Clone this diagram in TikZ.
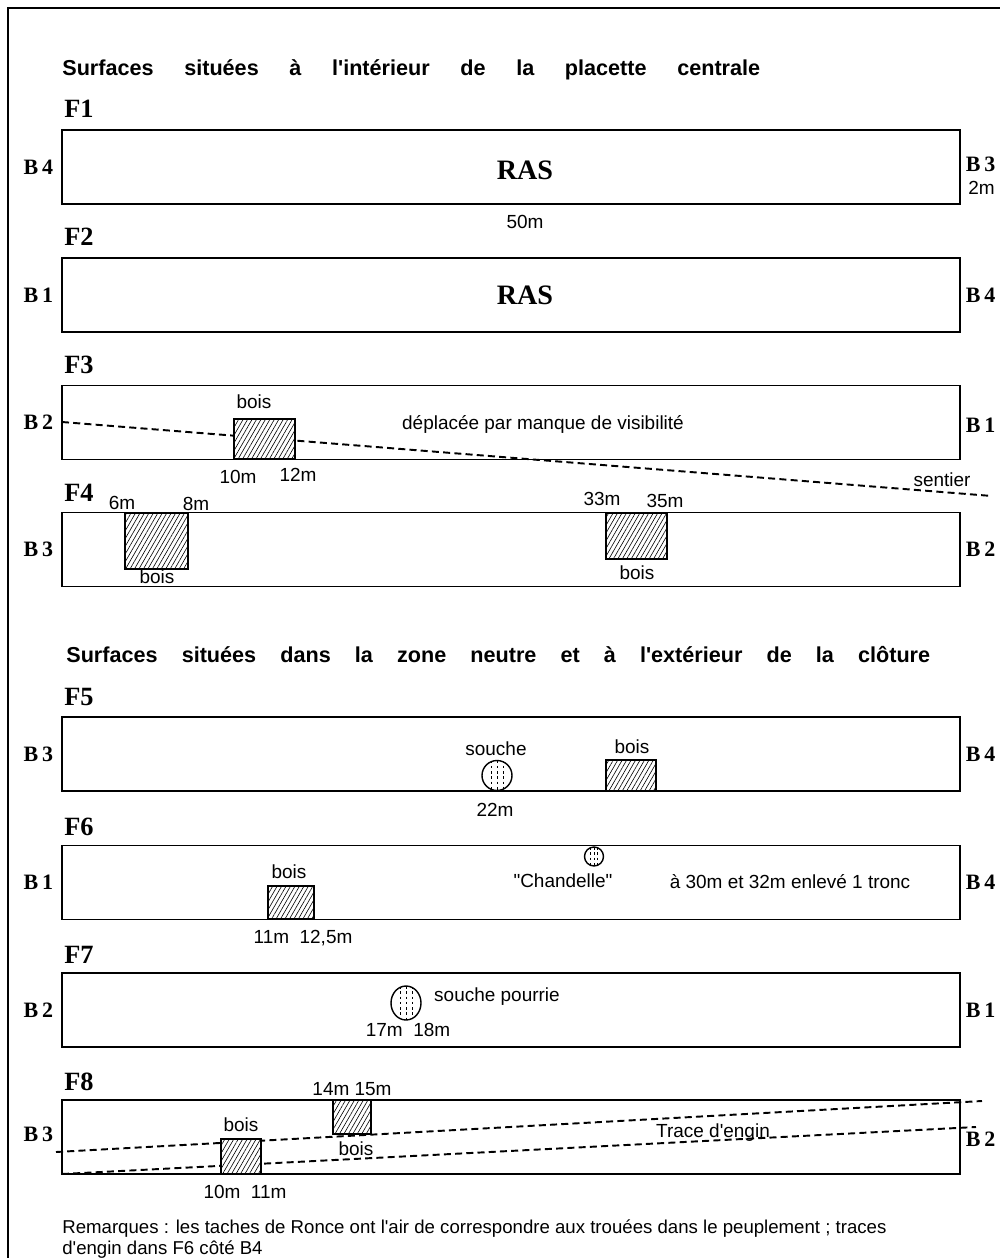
\documentclass[tikz,border=0pt]{standalone}
\usepackage{fontspec}
\setmainfont{Liberation Sans}[Ligatures=TeXOff]
\newfontfamily\tnr{Liberation Serif}
\usetikzlibrary{positioning,patterns.meta}

% stump: centre x, centre y, x radius, y radius
\newcommand\stump[4]{%
  \begin{scope}[shift={(#1,#2)}]
    \draw[thick,fill=white] (0,0) ellipse [x radius=#3,y radius=#4];
    \clip (0,0) ellipse [x radius=#3,y radius=#4];
    \foreach \dx in {-0.4,0,0.4}
      \draw[thin,dash pattern=on 1.5pt off 1.5pt] (\dx*#3,-#4) -- (\dx*#3,#4);
  \end{scope}}

\begin{document}
\begin{tikzpicture}[x=0.02cm,y=-0.02cm,
    strip/.style={draw,thick,rectangle,minimum width=17.96cm,minimum height=1.48cm,inner sep=0},
    title/.style={font=\bfseries\fontsize{12.3}{14}\selectfont,anchor=base west,inner sep=0},
    flab/.style={font=\tnr\bfseries\fontsize{15}{15}\selectfont,anchor=base west,inner sep=0},
    blab/.style={font=\tnr\bfseries\fontsize{12.5}{13}\selectfont,inner sep=0},
    lab/.style={font=\fontsize{10.8}{12}\selectfont,inner sep=0},
    ras/.style={font=\tnr\bfseries\fontsize{16}{16}\selectfont},
    hatch/.style={draw,thick,fill=white,postaction={pattern={Lines[angle=60,distance=2.2pt,line width=.35pt]}}},
    track/.style={line width=1.1pt,dash pattern=on 4pt off 2.4pt}]
    \useasboundingbox (0,0) rectangle (1000,1258);
    \draw[thick] (8,1258) -- (8,8) -- (1000,8);

    % interieur de la placette
    \node[title] (t1) at (62,75) {\makebox[13.96cm][s]{Surfaces situées à l'intérieur de la placette centrale}};

    \node[flab] (f1_lab) at (64,117) {F1};
    \node[strip] (f1) at (511,167) {};
    \node[ras] (ras1) at (525,170) {RAS};
    \node[blab,left=1.6mm] (f1_w) at (f1.west) {B\,4};
    \node[blab,right=1mm,yshift=.05cm] (f1_e) at (f1.east) {B\,3};
    \node[lab,anchor=west] (f1_h) at (968,188) {2m};
    \node[lab] (f1_l) at (525,222) {50m};

    \node[flab] (f2_lab) at (64,245) {F2};
    \node[strip] (f2) at (511,295) {};
    \node[ras] (ras2) at (525,295) {RAS};
    \node[blab,left=1.6mm] (f2_w) at (f2.west) {B\,1};
    \node[blab,right=1mm] (f2_e) at (f2.east) {B\,4};

    \node[flab] (f3_lab) at (64,373) {F3};
    \node[strip] (f3) at (511,422.5) {};
    \node[blab,left=1.6mm] (f3_w) at (f3.west) {B\,2};
    \node[blab,right=1mm,yshift=-.06cm] (f3_e) at (f3.east) {B\,1};
    \coordinate (sentier_w) at (62,422);
    \coordinate (sentier_e) at (992,496);
    \draw[track] (sentier_w) -- (sentier_e);
    \draw[hatch] (234,419) rectangle (295,459);
    \node[lab] at (254,402) {bois};
    \node[lab] at (238,477) {10m};
    \node[lab] at (298,475) {12m};
    \node[lab] at (543,424) {déplacée par manque de visibilité};
    \node[lab] at (942,480) {sentier};

    \node[flab] (f4_lab) at (64,501) {F4};
    \node[strip] (f4) at (511,549.5) {};
    \node[blab,left=1.6mm] (f4_w) at (f4.west) {B\,3};
    \node[blab,right=1mm] (f4_e) at (f4.east) {B\,2};
    \draw[hatch] (125,513) rectangle (188,569);
    \draw[hatch] (606,513) rectangle (667,559);
    \node[lab] at (122,503) {6m};
    \node[lab] at (196,504) {8m};
    \node[lab] at (157,577) {bois};
    \node[lab] at (602,499) {33m};
    \node[lab] at (665,501) {35m};
    \node[lab] at (637,573) {bois};

    % zone neutre et exterieur
    \node[title] (t2) at (66,662) {\makebox[17.28cm][s]{Surfaces situées dans la zone neutre et à l'extérieur de la clôture}};

    \node[flab] (f5_lab) at (64,705) {F5};
    \node[strip] (f5) at (511,754) {};
    \node[blab,left=1.6mm] (f5_w) at (f5.west) {B\,3};
    \node[blab,right=1mm] (f5_e) at (f5.east) {B\,4};
    \stump{497}{775.5}{15}{15}
    \draw[hatch] (606,760) rectangle (656,791);
    \node[lab] at (496,749) {souche};
    \node[lab] at (495,810) {22m};
    \node[lab] at (632,747) {bois};

    \node[flab] (f6_lab) at (64,835) {F6};
    \node[strip] (f6) at (511,882.5) {};
    \node[blab,left=1.6mm] (f6_w) at (f6.west) {B\,1};
    \node[blab,right=1mm] (f6_e) at (f6.east) {B\,4};
    \stump{594}{856.5}{9.5}{9.5}
    \draw[hatch] (268,886) rectangle (314,919);
    \node[lab] at (289,872) {bois};
    \node[lab] at (563,881) {"Chandelle"};
    \node[lab] at (790,882) {à 30m et 32m enlevé 1 tronc};
    \node[lab] at (303,938) {11m\ \ 12,5m};

    \node[flab] (f7_lab) at (64,963) {F7};
    \node[strip] (f7) at (511,1010) {};
    \node[blab,left=1.6mm] (f7_w) at (f7.west) {B\,2};
    \node[blab,right=1mm] (f7_e) at (f7.east) {B\,1};
    \stump{406}{1003}{15}{17}
    \node[lab] at (497,997) {souche pourrie};
    \node[lab] at (408,1030) {17m\ \ 18m};

    \node[flab] (f8_lab) at (64,1090) {F8};
    \node[strip] (f8) at (511,1137) {};
    \node[blab,left=1.6mm,yshift=.06cm] (f8_w) at (f8.west) {B\,3};
    \node[blab,right=1mm,yshift=-.04cm] (f8_e) at (f8.east) {B\,2};
    \coordinate (engin1_w) at (56,1152);
    \coordinate (engin1_e) at (982,1101);
    \coordinate (engin2_w) at (62,1174);
    \coordinate (engin2_e) at (976,1127);
    \draw[track] (engin1_w) -- (engin1_e);
    \draw[track] (engin2_w) -- (engin2_e);
    \draw[hatch] (333,1100) rectangle (371,1134);
    \draw[hatch] (221,1139) rectangle (261,1174);
    \node[lab] at (352,1089) {14m\ 15m};
    \node[lab] at (241,1125) {bois};
    \node[lab] at (356,1149) {bois};
    \node[lab] at (713,1133) {Trace d'engin};
    \node[lab] at (245,1192) {10m\ \ 11m};

    \node[lab,anchor=north west,align=left,font=\fontsize{10.6}{12.3}\selectfont] (rem) at (62,1219)
      {Remarques : les taches de Ronce ont l'air de correspondre aux trouées dans le peuplement ; traces\\
       d'engin dans F6 côté B4};
\end{tikzpicture}
\end{document}
